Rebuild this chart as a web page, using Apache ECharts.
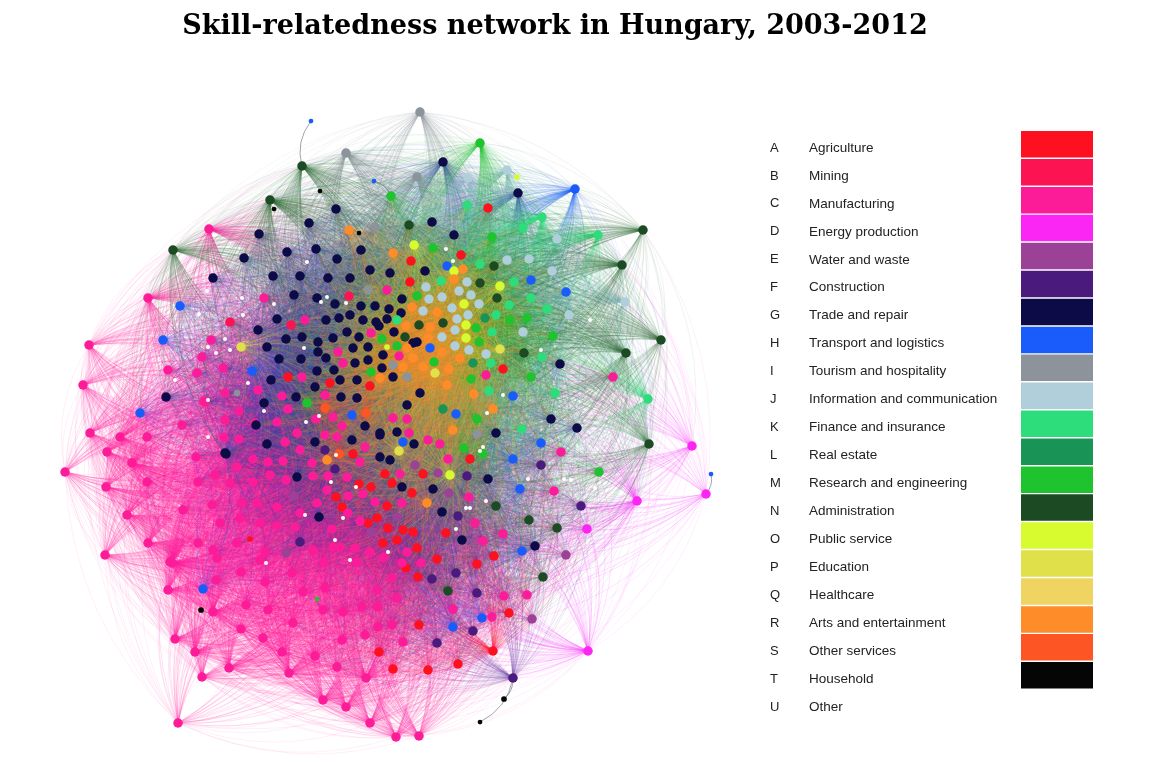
<!DOCTYPE html>
<html>
<head>
<meta charset="utf-8">
<script src="https://cdn.jsdelivr.net/npm/echarts@6/dist/echarts.min.js"></script>
<style>
  html, body { margin: 0; padding: 0; background: #fff; }
  #main { width: 1150px; height: 764px; }
</style>
</head>
<body>
<div id="main"></div>
<script>
// sectors
var sectorCodes = ['A','B','C','D','E','F','G','H','I','J','K','L','M','N','O','P','Q','R','S','T','U'];
var sectorNames = ['Agriculture','Mining','Manufacturing','Energy production','Water and waste','Construction',
    'Trade and repair','Transport and logistics','Tourism and hospitality','Information and communication',
    'Finance and insurance','Real estate','Research and engineering','Administration','Public service',
    'Education','Healthcare','Arts and entertainment','Other services','Household','Other'];
var sectorColors = ['#fd1020','#fc1452','#fd1c98','#fb26f4','#9b4296','#4a1a7c','#0c0b48','#1a5cfb',
    '#8c939a','#b0cfdb','#2ddd7c','#1a9456','#1ec32e','#1c4a22','#d8fb30','#dfe04a','#efd462',
    '#fd8c29','#fd5523','#050505','#ffffff'];
// edge tint per sector (links are drawn lighter than the dots)
var edgeColors = ['#fd1020','#fc1452','#fd1c98','#fb26f4','#9b4296','#6a3aa0','#2e3ca8','#1a5cfb',
    '#8c939a','#90b8c8','#2ddd7c','#1a9456','#1ec32e','#2e6a36','#d8fb30','#dfe04a','#efd462',
    '#fd8c29','#fd5523','#555555','#cccccc'];

// occupations: [x, y, weight]
var nodesA = [[488,208],[411,261],[461,255],[410,282],[503,369],[470,459],[446,533],[477,564],[494,556],
    [437,559],[423,474],[412,493],[413,532],[417,548],[288,377],[330,383],[370,386],[353,454],[359,484],
    [371,487],[385,474],[392,483],[336,497],[387,506],[342,507],[368,523],[377,518],[388,528],[383,543],
    [397,540],[403,530],[406,568],[418,577],[509,613],[419,625],[379,652],[393,669],[428,670],[458,664],
    [493,651],[250,539,0.6]];
var nodesB = [[230,322],[291,325],[349,296]];
var nodesC = [[209,229],[148,298],[89,345],[83,385],[90,433],[65,472],[106,487],[105,555],[178,723],
    [396,737],[419,736],[370,723],[264,298],[387,290],[305,320],[371,333],[211,340],[338,352],[399,356],
    [343,363],[223,368],[202,357],[302,377],[225,393],[258,390],[282,396],[205,402],[239,411],[288,409],
    [325,395],[255,423],[277,422],[297,433],[316,419],[333,417],[342,426],[393,418],[407,419],[409,433],
    [224,437],[239,439],[285,442],[300,450],[325,435],[337,437],[365,447],[253,459],[268,462],[283,461],
    [312,463],[360,462],[400,474],[237,467],[215,475],[230,483],[253,482],[270,475],[286,480],[313,476],
    [328,476],[347,477],[212,505],[242,503],[257,503],[277,507],[317,503],[327,490],[348,496],[363,494],
    [375,502],[402,503],[348,513],[300,513],[220,523],[240,518],[260,523],[277,526],[295,527],[332,529],
    [360,521],[213,550],[237,543],[265,552],[313,550],[324,562],[340,547],[355,548],[370,552],[407,552],
    [402,563],[357,562],[168,370],[197,373],[204,401],[225,420],[182,425],[147,437],[120,437],[107,452],
    [132,463],[196,457],[147,482],[127,515],[183,510],[198,482],[148,543],[170,562],[198,543],[217,558],
    [168,590],[172,563],[216,580],[213,612],[175,639],[195,652],[202,677],[229,668],[241,629],[263,638],
    [268,610],[282,652],[289,673],[323,700],[346,707],[246,605],[241,572],[265,582],[292,573],[293,623],
    [303,592],[315,656],[325,588],[323,610],[343,612],[337,667],[366,678],[362,607],[378,607],[342,640],
    [365,635],[378,627],[260,560],[333,547],[453,609],[504,596],[492,617],[392,625],[403,642],[377,590],
    [397,598],[384,557],[392,578],[527,595],[428,440],[440,444],[448,459],[469,497],[475,523],[503,534],
    [486,375],[554,491],[561,452],[421,563],[483,541],[613,377]];
var nodesD = [[692,446],[706,494],[637,501],[587,529],[588,651]];
var nodesE = [[566,555],[415,465],[438,473],[294,496],[397,517],[371,532],[286,553],[532,619],[449,493]];
var nodesF = [[541,465],[467,476],[581,506],[458,516],[335,469],[325,450],[300,542],[456,573],[477,593],
    [432,579],[473,631],[437,643],[513,678]];
var nodesG = [[443,162],[336,209],[309,223],[259,234],[432,222],[244,258],[287,252],[316,249],[337,259],
    [361,250],[213,278],[273,276],[300,276],[328,278],[350,278],[370,270],[390,273],[425,271],[294,295],
    [317,298],[335,304],[361,306],[375,306],[389,309],[402,299],[277,319],[326,320],[339,318],[350,315],
    [363,320],[376,322],[387,319],[401,313],[258,330],[286,339],[302,337],[318,342],[333,338],[347,332],
    [359,337],[379,326],[394,332],[518,193],[454,235],[417,342],[560,364],[551,419],[577,428],[496,433],
    [488,479],[462,540],[442,512],[420,393],[414,444],[380,435],[433,489],[407,405],[166,397],[226,454],
    [297,477],[319,517],[271,380],[264,403],[296,397],[315,387],[341,397],[357,398],[340,380],[357,380],
    [393,377],[256,425],[365,426],[380,433],[397,432],[225,453],[267,444],[315,442],[352,440],[380,457],
    [390,460],[402,487],[267,347],[279,359],[301,359],[318,352],[326,358],[353,348],[368,347],[383,355],
    [317,371],[334,370],[355,363],[368,360],[382,368],[413,343],[535,546]];
var nodesH = [[575,189],[180,306],[163,340],[140,413],[252,371],[447,266],[531,280],[566,292],[513,396],
    [541,443],[513,459],[520,489],[522,551],[352,415],[403,442],[430,348],[456,414],[203,589],[453,627],
    [482,618],[311,121,0.5],[711,474,0.5],[374,181,0.5]];
var nodesI = [[420,112],[346,153],[417,177],[375,227],[368,290],[477,434],[237,393,0.7],[407,377],[393,365]];
var nodesJ = [[507,170],[468,178],[557,239],[507,260],[529,259],[552,271],[467,282],[426,287],[429,299],
    [442,297],[459,291],[471,295],[423,311],[452,308],[479,304],[468,315],[569,315],[523,332],[457,319],
    [455,330],[442,337],[455,346],[469,350],[486,354],[625,302]];
var nodesK = [[467,205],[542,217],[523,228],[598,235],[480,264],[441,281],[514,282],[531,298],[547,309],
    [496,315],[509,305],[492,332],[489,391],[522,429],[555,393],[542,357],[491,363],[648,399],[397,320]];
var nodesL = [[443,409],[485,318],[473,363]];
var nodesM = [[480,143],[391,196],[433,248],[492,237],[417,296],[510,320],[527,318],[553,336],[476,328],
    [479,342],[531,377],[477,419],[464,448],[483,454],[599,472],[307,403],[382,339],[397,346],[371,372],
    [434,362],[471,379],[317,599,0.5]];
var nodesN = [[302,166],[270,200],[173,250],[643,230],[622,265],[661,340],[626,353],[649,444],[409,225],
    [494,266],[480,283],[497,298],[419,325],[443,323],[524,353],[496,506],[529,520],[557,528],[543,577],
    [448,591],[405,337]];
var nodesO = [[414,245],[454,271],[500,286],[464,304],[466,325],[466,338],[517,177,0.6],[387,347,0.6],[450,475]];
var nodesP = [[241,347],[399,451],[435,373],[500,349]];
var nodesQ = [];
var nodesR = [[349,230],[393,253],[463,269],[454,279],[412,307],[437,312],[406,326],[430,327],[428,338],
    [407,348],[413,358],[403,367],[442,352],[460,358],[449,369],[423,367],[493,409],[453,430],[447,385],
    [474,394],[427,503],[380,378],[327,460]];
var nodesS = [[325,408],[366,413],[339,454]];
var nodesT = [[504,699,0.6],[480,722,0.5],[201,610,0.6],[320,191,0.5],[274,209,0.5],[359,233,0.5]];
var nodesU = [[207,291],[274,304],[243,315],[199,314],[225,339],[453,261],[446,249],[503,395],[487,413],
    [483,447],[486,501],[470,508],[564,479],[571,480],[307,262],[327,297],[321,302],[242,298],[230,350],
    [216,353],[304,348],[346,303],[175,380],[208,347],[208,437],[248,383],[208,400],[264,411],[306,422],
    [319,416],[331,482],[336,455],[356,487],[343,518],[305,515],[335,540],[350,560],[388,552],[266,563],
    [480,451],[528,479],[466,508],[456,529],[541,350],[590,320],[595,488]];

var sectorNodes = [nodesA,nodesB,nodesC,nodesD,nodesE,nodesF,nodesG,nodesH,nodesI,nodesJ,nodesK,
    nodesL,nodesM,nodesN,nodesO,nodesP,nodesQ,nodesR,nodesS,nodesT,nodesU];

var myChart = echarts.init(document.getElementById('main'));

// flat node list
var all = [];
for (var s = 0; s < sectorNodes.length; s++) {
    for (var k = 0; k < sectorNodes[s].length; k++) {
        var p = sectorNodes[s][k];
        all.push({x: p[0], y: p[1], w: p.length > 2 ? p[2] : 1, s: s});
    }
}

// links: skill-related occupations sit close together in the layout
var cx = 385, cy = 425, rOut = 250;
var edgesOf = [], arcsOf = [], minorEdges = [];
for (var i = 0; i < all.length; i++) {
    edgesOf.push([]);
    arcsOf.push([]);
    all[i].r = Math.sqrt((all[i].x - cx) * (all[i].x - cx) + (all[i].y - cy) * (all[i].y - cy));
}
function dist(a, b) {
    return Math.sqrt((a.x - b.x) * (a.x - b.x) + (a.y - b.y) * (a.y - b.y));
}
function addEdge(list, a, b, outward) {
    var p0 = [a.x, a.y], p1 = [b.x, b.y];
    if (outward) {
        // bend the arc away from the centre
        var mx = (p0[0] + p1[0]) / 2 - cx, my = (p0[1] + p1[1]) / 2 - cy;
        var ox = p1[1] - p0[1], oy = p0[0] - p1[0];
        if (ox * mx + oy * my < 0) { var t = p0; p0 = p1; p1 = t; }
    }
    list.push({coords: [p0, p1]});
}
for (var i = 0; i < all.length; i++) {
    var a = all[i];
    if (a.s === 20) continue;
    if (a.w < 1) {
        // minor occupations: a single tie to the nearest large one
        var best = -1, bd = 1e9;
        for (var j = 0; j < all.length; j++) {
            if (j === i || all[j].w < 0.55 || all[j].s === 20 || (all[j].w < 1 && all[j].r < a.r)) continue;
            var dd = dist(a, all[j]);
            if (dd < bd) { bd = dd; best = j; }
        }
        addEdge(minorEdges, a, all[best], true);
        continue;
    }
    for (var j = i + 1; j < all.length; j++) {
        var b = all[j];
        if (b.w < 1 || b.s === 20) continue;
        var d = dist(a, b);
        var oa = a.r > rOut, ob = b.r > rOut;
        var lim = (oa && ob) ? 330 : ((oa || ob) ? 230 : 165);
        if (d >= lim || d < 1) continue;
        var src;
        if (oa || ob) src = a.r >= b.r ? i : j;
        else src = (i + j) % 2 ? i : j;
        var other = src === i ? b : a;
        addEdge((oa && ob) ? arcsOf[src] : edgesOf[src], all[src], other, oa || ob);
    }
}

var series = [];
for (var i = 0; i < all.length; i++) {
    var outer = all[i].r > rOut;
    if (edgesOf[i].length) {
        series.push({
            type: 'lines', coordinateSystem: 'cartesian2d', large: true, largeThreshold: 1, silent: true, z: 1,
            lineStyle: {color: edgeColors[all[i].s], width: 0.5, opacity: outer ? 0.26 : 0.22, curveness: 0.2},
            data: edgesOf[i]
        });
    }
    if (arcsOf[i].length) {
        series.push({
            type: 'lines', coordinateSystem: 'cartesian2d', large: true, largeThreshold: 1, silent: true, z: 1,
            lineStyle: {color: edgeColors[all[i].s], width: 0.5, opacity: 0.14, curveness: 0.2},
            data: arcsOf[i]
        });
    }
}
series.push({
    type: 'lines', coordinateSystem: 'cartesian2d', silent: true, z: 2,
    lineStyle: {color: '#556070', width: 0.8, opacity: 0.7, curveness: 0.25},
    data: minorEdges
});
for (var s = 0; s < sectorNodes.length; s++) {
    if (!sectorNodes[s].length) continue;
    series.push({
        type: 'scatter',
        name: sectorCodes[s],
        z: 5,
        silent: true,
        symbol: 'circle',
        symbolSize: function (v) { return (v[2] || 1) * 9.5; },
        itemStyle: {color: sectorColors[s], opacity: 1},
        data: sectorNodes[s].map(function (p) { return [p[0], p[1], s === 20 ? 0.42 : (p.length > 2 ? p[2] : 1)]; })
    });
}

// legend on the right
var graphics = [{
    type: 'text', x: 555, y: 27,
    style: {text: 'Skill-relatedness network in Hungary, 2003-2012', fill: '#000',
        font: 'bold 27px "DejaVu Serif"', textAlign: 'center', textVerticalAlign: 'middle'}
}];
for (var s = 0; s < sectorCodes.length; s++) {
    var ty = 148 + s * 27.95;
    graphics.push({type: 'text', x: 770, y: ty,
        style: {text: sectorCodes[s], fill: '#222', font: '13px "Liberation Sans"', textVerticalAlign: 'middle'}});
    graphics.push({type: 'text', x: 809, y: ty,
        style: {text: sectorNames[s], fill: '#222', font: '13.5px "Liberation Sans"', textVerticalAlign: 'middle'}});
    if (s < 20) {
        graphics.push({type: 'rect', shape: {x: 1021, y: 131 + s * 27.95, width: 72, height: 26.5},
            style: {fill: sectorColors[s]}});
    }
}

myChart.setOption({
    animation: false,
    grid: {left: 0, right: 0, top: 0, bottom: 0},
    xAxis: {type: 'value', min: 0, max: 1150, show: false},
    yAxis: {type: 'value', min: 0, max: 764, inverse: true, show: false},
    graphic: graphics,
    series: series
});
</script>
</body>
</html>
